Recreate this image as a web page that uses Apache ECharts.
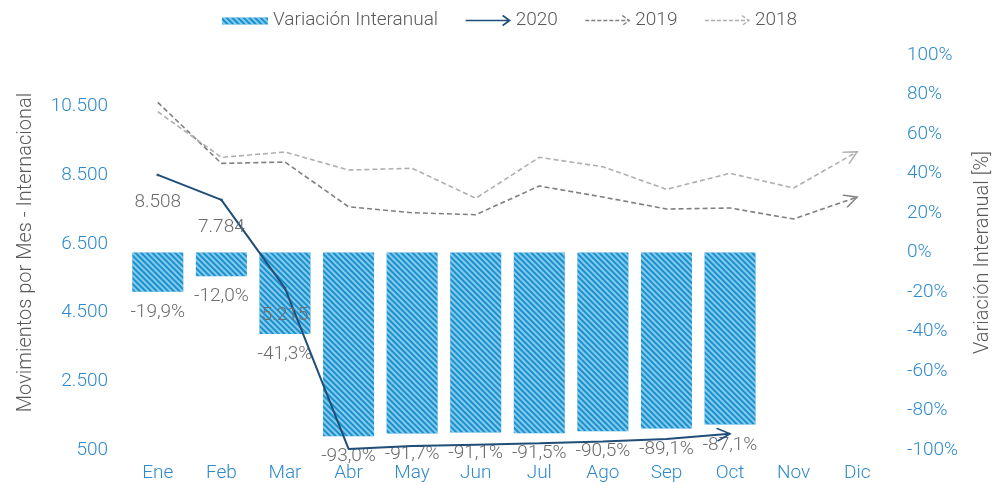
<!DOCTYPE html>
<html>
<head>
<meta charset="utf-8">
<script src="https://cdn.jsdelivr.net/npm/echarts@6/dist/echarts.min.js"></script>
<style>
html,body{margin:0;padding:0;background:#fff;}
#chart{width:1003px;height:485px;}
</style>
</head>
<body>
<div id="chart"></div>
<script>
const categories = ['Ene','Feb','Mar','Abr','May','Jun','Jul','Ago','Sep','Oct','Nov','Dic'];
const variacion = [-19.9,-12.0,-41.3,-93.0,-91.7,-91.1,-91.5,-90.5,-89.1,-87.1,null,null];
const mov2020 = [8508,7784,5215,531,615,654,696,747,819,973,null,null];
const mov2019 = [10620,8845,8884,7583,7408,7350,8186,7865,7516,7545,7225,7865];
const mov2018 = [10349,9021,9175,8651,8701,7828,9021,8747,8090,8555,8127,9184];
const leftTicks = [500,2500,4500,6500,8500,10500];
const labeled2020Count = 3;

const FONT = 'Roboto';
const BLUE_TXT = '#2E8ACB';
const GRAY_TXT = '#6B6B6B';
const TITLE_TXT = '#595959';
const C2020 = '#1F4E79';
const C2019 = '#7F7F7F';
const C2018 = '#AFAFAF';
const BAR = '#1592D1';
const ARROW = 'path://M0,0L10,5L0,10M20,5';
const LEG_ARROW = 'path://M0,6L44,6M37,1L44,6L37,11M0,0M44,12';
const LEG_BAR = 'path://M0,0L0.01,0L0,0ZM0,3L46,3L46,10L0,10ZM46,12L45.99,12L46,12Z';
const FS = 19;

function fmtThousands(v){
  const s = Math.round(v).toString();
  return s.replace(/\B(?=(\d{3})+(?!\d))/g, '.');
}
function fmtPct(v){
  return v.toFixed(1).replace('.', ',') + '%';
}
function lastIndex(arr){
  let k = -1; arr.forEach((v,i)=>{ if(v!==null) k=i; }); return k;
}
function withArrow(arr, rot, extra){
  const li = lastIndex(arr);
  return arr.map((v,i)=>{
    const o = {value: v};
    if (i === li) { o.symbol = ARROW; o.symbolSize = [26,13]; o.symbolRotate = rot; }
    if (extra) extra(o, i);
    return o;
  });
}

const chart = echarts.init(document.getElementById('chart'));
chart.setOption({
  backgroundColor: '#fff',
  animation: false,
  textStyle: {fontFamily: FONT, fontWeight: 300},
  legend: {
    top: 6, left: 217,
    itemWidth: 46, itemHeight: 12, itemGap: 25,
    textStyle: {fontFamily: FONT, fontWeight: 300, fontSize: FS, color: TITLE_TXT},
    data: [
      {name: 'Variación Interanual', icon: LEG_BAR},
      {name: '2020', icon: LEG_ARROW, itemStyle: {color: 'none', borderColor: C2020, borderWidth: 1.6}},
      {name: '2019', icon: LEG_ARROW, itemStyle: {color: 'none', borderColor: C2019, borderWidth: 1.4, borderType: [4,2]}},
      {name: '2018', icon: LEG_ARROW, itemStyle: {color: 'none', borderColor: C2018, borderWidth: 1.4, borderType: [4,2]}}
    ]
  },
  grid: {left: 126, right: 114, top: 55, bottom: 35, containLabel: false},
  xAxis: {
    type: 'category', data: categories,
    axisLine: {show: false}, axisTick: {show: false},
    axisLabel: {color: BLUE_TXT, fontSize: FS, fontFamily: FONT, fontWeight: 300, margin: 14}
  },
  yAxis: [
    {
      type: 'value', min: 500, max: 12000,
      name: 'Movimientos por Mes - Internacional', nameLocation: 'middle', nameRotate: 90, nameGap: 90,
      nameTextStyle: {color: TITLE_TXT, fontSize: 20, fontFamily: FONT, fontWeight: 300},
      axisLine: {show: false}, axisTick: {show: false}, splitLine: {show: false},
      axisLabel: {customValues: leftTicks, color: BLUE_TXT, fontSize: FS, fontFamily: FONT, fontWeight: 300, margin: 18,
                  formatter: v => fmtThousands(v)}
    },
    {
      type: 'value', min: -100, max: 100, interval: 20,
      name: 'Variación Interanual [%]', nameLocation: 'middle', nameRotate: 90, nameGap: 84,
      nameTextStyle: {color: TITLE_TXT, fontSize: 20, fontFamily: FONT, fontWeight: 300},
      axisLine: {show: false}, axisTick: {show: false}, splitLine: {show: false},
      axisLabel: {color: BLUE_TXT, fontSize: FS, fontFamily: FONT, fontWeight: 300, margin: 18,
                  formatter: v => Math.round(v) + '%'}
    }
  ],
  series: [
    {
      name: 'Variación Interanual', type: 'bar', yAxisIndex: 1,
      data: variacion, barWidth: 51,
      itemStyle: {
        color: BAR,
        decal: {symbol: 'rect', symbolSize: 1, dashArrayX: [1, 0], dashArrayY: [1.5, 2], rotation: Math.PI/4, color: 'rgba(255,255,255,0.5)'}
      },
      label: {show: true, position: 'bottom', distance: 11, color: GRAY_TXT, fontSize: FS, fontFamily: FONT, fontWeight: 300,
              formatter: p => fmtPct(p.value)},
      z: 2
    },
    {
      name: '2019', type: 'line', yAxisIndex: 0, symbol: 'none', showSymbol: true,
      data: withArrow(mov2019, 19),
      lineStyle: {color: C2019, width: 1.6, type: [5,3]},
      itemStyle: {color: 'none', borderColor: C2019, borderWidth: 1.6},
      z: 3
    },
    {
      name: '2018', type: 'line', yAxisIndex: 0, symbol: 'none', showSymbol: true,
      data: withArrow(mov2018, 29),
      lineStyle: {color: C2018, width: 1.6, type: [5,3]},
      itemStyle: {color: 'none', borderColor: C2018, borderWidth: 1.6},
      z: 3
    },
    {
      name: '2020', type: 'line', yAxisIndex: 0, symbol: 'none', showSymbol: true,
      data: withArrow(mov2020, 4, (o, i) => {
        if (i < labeled2020Count) { o.symbol = 'circle'; o.symbolSize = 1; o.label = {show: true}; }
      }),
      lineStyle: {color: C2020, width: 2},
      itemStyle: {color: 'none', borderColor: C2020, borderWidth: 1.8},
      label: {show: false, position: 'bottom', distance: 15, color: GRAY_TXT, fontSize: FS, fontFamily: FONT, fontWeight: 300,
              formatter: p => fmtThousands(p.value)},
      labelLayout: {hideOverlap: false},
      z: 4
    }
  ]
});
</script>
</body>
</html>
